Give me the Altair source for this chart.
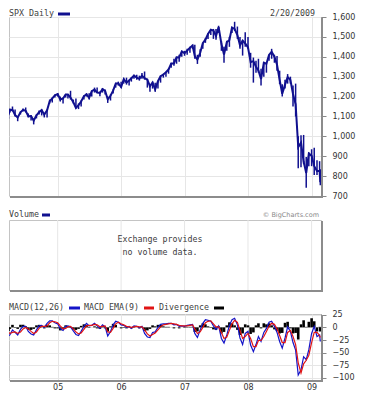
import altair as alt
import pandas as pd

# ---------------- data (semi-monthly readings) ----------------
ym = [(y, m) for y in range(2004, 2010) for m in range(1, 13)
      if (2004, 4) <= (y, m) <= (2009, 2)]
dates = ["2004-03-24"] + [f"{y}-{m:02d}-{d:02d}" for (y, m) in ym for d in (1, 16)] + ["2009-02-20"]

close = [1109, 1133, 1134, 1107, 1095, 1121, 1133, 1128, 1101, 1102, 1079, 1106, 1121, 1132, 1109, 1131, 1176, 1191, 1206,
         1212, 1185, 1190, 1210, 1210, 1195, 1172, 1143, 1157, 1175, 1202, 1211, 1194, 1227, 1235, 1220, 1218, 1237, 1229, 1186, 1204, 1230, 1265, 1267,
         1248, 1287, 1270, 1281, 1292, 1305, 1295, 1289, 1305, 1292, 1285, 1252, 1270, 1236, 1277, 1302, 1311, 1322, 1336, 1365, 1367, 1397, 1396, 1427,
         1418, 1431, 1445, 1456, 1403, 1386, 1420, 1468, 1486, 1515, 1536, 1532, 1505, 1549, 1465, 1411, 1473, 1484, 1547, 1540, 1509, 1458, 1481, 1467,
         1447, 1373, 1378, 1350, 1331, 1288, 1370, 1365, 1409, 1425, 1400, 1360, 1284, 1214, 1260, 1298, 1283, 1213, 1161, 946, 968, 873, 816, 913,
         903, 850, 826, 826, 770]
low = [1088, 1120, 1125, 1100, 1076, 1110, 1125, 1120, 1095, 1080, 1060, 1090, 1110, 1105, 1095, 1095, 1165, 1170, 1195,
       1200, 1175, 1165, 1195, 1190, 1185, 1165, 1140, 1137, 1150, 1185, 1200, 1185, 1200, 1220, 1218, 1201, 1220, 1210, 1168, 1180, 1215, 1245, 1255,
       1245, 1265, 1260, 1255, 1275, 1290, 1285, 1280, 1290, 1285, 1245, 1224, 1240, 1224, 1240, 1270, 1295, 1300, 1315, 1345, 1355, 1365, 1375, 1400,
       1405, 1410, 1420, 1440, 1390, 1364, 1400, 1440, 1470, 1490, 1510, 1490, 1485, 1520, 1430, 1370, 1430, 1450, 1520, 1530, 1490, 1440, 1406, 1450,
       1440, 1345, 1270, 1320, 1320, 1256, 1300, 1320, 1380, 1390, 1370, 1330, 1262, 1200, 1240, 1265, 1265, 1150, 1100, 840, 845, 860, 741, 850,
       850, 805, 805, 820, 754]
high = [1120, 1140, 1150, 1135, 1100, 1125, 1140, 1145, 1115, 1105, 1085, 1110, 1130, 1135, 1115, 1135, 1185, 1195, 1210,
        1217, 1200, 1195, 1212, 1212, 1229, 1185, 1190, 1165, 1180, 1205, 1217, 1216, 1230, 1245, 1245, 1225, 1243, 1235, 1200, 1210, 1235, 1270, 1275,
        1275, 1295, 1295, 1285, 1297, 1310, 1310, 1305, 1318, 1326, 1290, 1260, 1275, 1270, 1280, 1305, 1315, 1325, 1340, 1370, 1390, 1400, 1410, 1430,
        1430, 1440, 1450, 1461, 1461, 1410, 1438, 1470, 1494, 1518, 1540, 1540, 1540, 1556, 1480, 1450, 1480, 1500, 1550, 1576, 1552, 1500, 1485, 1523,
        1500, 1420, 1396, 1380, 1390, 1340, 1375, 1372, 1410, 1440, 1410, 1404, 1330, 1262, 1285, 1313, 1300, 1255, 1265, 1000, 1005, 1007, 896, 920,
        935, 943, 880, 875, 835]

macd = [-17, -15, -5, -10, -15, -4, 2, 2, -8, -13, -15, -5, 3, 4, 0, 8, 13, 13, 9,
        7, -3, -6, 2, 3, 1, -7, -14, -16, -8, 2, 8, 3, 4, 8, 3, -2, 5, 1, -17, -8, 5, 12, 10,
        5, 4, 0, 2, -2, 3, 2, -1, 2, -12, -19, -20, -10, -9, 0, 6, 7, 7, 8, 8, 5, 6, 2, 3,
        2, 4, 5, 6, -12, -20, -5, 8, 15, 14, 12, 3, -4, 3, -22, -31, -15, 4, 15, 18, 5, -21, -34, -12,
        -8, -35, -48, -34, -18, -28, -10, -2, 10, 12, 2, -10, -28, -41, -21, 1, -8, -30, -45, -94, -84, -58, -64, -44,
        -12, 2, -18, -15, -28]
ema = [-10, -12, -10, -9, -12, -9, -3, 0, -3, -8, -12, -9, -2, 2, 2, 3, 9, 12, 11,
       9, 3, -3, -2, 1, 2, -3, -9, -13, -11, -4, 3, 4, 4, 6, 5, 1, 2, 3, -9, -10, -2, 7, 10,
       7, 5, 2, 1, 0, 1, 2, 1, 1, -5, -13, -17, -14, -11, -5, 1, 5, 6, 7, 8, 7, 6, 4, 3,
       3, 3, 4, 5, -3, -12, -9, 0, 9, 12, 13, 7, 1, 1, -10, -22, -19, -6, 7, 14, 10, -6, -22, -18,
       -12, -22, -38, -38, -26, -26, -18, -8, 2, 8, 6, -3, -16, -30, -30, -10, -6, -18, -34, -70, -90, -72, -65, -55,
       -30, -10, -10, -16, -20]
div = [-7, -3, 5, -1, -3, 5, 5, 2, -5, -5, -3, 4, 5, 2, -2, 5, 4, 1, -2,
       -2, -6, -3, 4, 2, -1, -4, -5, -3, 3, 6, 5, -1, 0, 2, -2, -3, 3, -2, -8, 2, 7, 5, 0,
       -2, -1, -2, 1, -2, 2, 0, -2, 1, -7, -6, -3, 4, 2, 5, 5, 2, 1, 1, 0, -2, 0, -2, 0,
       -1, 1, 1, 1, -9, -8, 4, 8, 6, 2, -1, -4, -5, 2, -12, -9, 4, 10, 8, 4, -5, -15, -12, 6,
       4, -13, -10, 4, 8, -2, 8, 6, 8, 4, -4, -7, -12, -11, 9, 11, -2, -12, -11, -24, 6, 14, 1, 11,
       18, 12, -8, 1, -8]

price_ticks = [700, 800, 900, 1000, 1100, 1200, 1300, 1400, 1500, 1600]
macd_ticks = [25, 0, -25, -50, -75, -100]
year_starts = ["2005-01-01", "2006-01-01", "2007-01-01", "2008-01-01", "2009-01-01"]

df = pd.DataFrame({"date": dates, "close": close, "low": low, "high": high,
                   "macd": macd, "ema": ema, "div": div})
yr_df = pd.DataFrame({"yr": year_starts})

# ---------------- styling ----------------
W, H1, H2, H3 = 312, 179, 70, 66
BLUE = "#10108f"
MBLUE = "#1414c8"
RED = "#e01414"
GRID = "#e6e6e6"
TXT = "#404040"
MONO = "DejaVu Sans Mono"
FS = 8.3

xscale = alt.Scale(type="utc", padding=0,
                   domain=[alt.DateTime(year=2004, month=3, date=27, utc=True),
                           alt.DateTime(year=2009, month=2, date=24, utc=True)])
yr_vals = [alt.DateTime(year=y, month=1, date=1, utc=True) for y in range(2005, 2010)]
one = pd.DataFrame({"k": [0]})


def label(text, x, y, align="left", color=TXT, font=MONO, size=FS):
    return alt.Chart(one).mark_text(align=align, baseline="middle", font=font,
                                    fontSize=size, color=color).encode(
        x=alt.value(x), y=alt.value(y), text=alt.value(text))


def dash(x1, x2, y, color):
    return alt.Chart(one).mark_rule(color=color, strokeWidth=3).encode(
        x=alt.value(x1), x2=alt.value(x2), y=alt.value(y))


def shadow(h):
    right = alt.Chart(one).mark_rule(color="#8c8c8c", strokeWidth=2).encode(
        x=alt.value(W + 1), y=alt.value(1), y2=alt.value(h + 2))
    bottom = alt.Chart(one).mark_rule(color="#8c8c8c", strokeWidth=2).encode(
        x=alt.value(1), x2=alt.value(W + 2), y=alt.value(h + 1))
    return right + bottom


x_nolab = alt.X("date:T", scale=xscale,
                axis=alt.Axis(values=yr_vals, labels=False, ticks=False, domain=False,
                              grid=True, title=None))
p_yscale = alt.Scale(domain=[700, 1600])
p_yaxis = alt.Axis(orient="right", values=price_ticks, format=",.0f", labelPadding=6,
                   grid=True, title=None)

p_rules = alt.Chart(df).mark_rule(color=BLUE, strokeWidth=1.5, clip=True).encode(
    x=x_nolab, y=alt.Y("low:Q", scale=p_yscale, axis=p_yaxis), y2="high:Q")
p_line = alt.Chart(df).mark_line(color=BLUE, strokeWidth=2, clip=True).encode(
    x=x_nolab, y=alt.Y("close:Q", scale=p_yscale, axis=p_yaxis))
price = alt.layer(p_rules, p_line, shadow(H1),
                  label("SPX Daily", 0, -3), dash(49, 61, -3, BLUE),
                  label("2/20/2009", W - 6, -3, align="right")
                  ).properties(width=W, height=H1)

v_grid = alt.Chart(yr_df).mark_rule(color=GRID).encode(
    x=alt.X("yr:T", scale=xscale, axis=None))
volume = alt.layer(v_grid, shadow(H2),
                   label("Exchange provides", 151, 20, align="center"),
                   label("no volume data.", 151, 33, align="center"),
                   label("Volume", 0, -5), dash(33, 41, -5, BLUE),
                   label("\u00a9 BigCharts.com", W - 2, -5, align="right",
                         color="#8a8a8a", font="DejaVu Sans", size=6.5)
                   ).properties(width=W, height=H2)

x_lab = alt.X("date:T", scale=xscale,
              axis=alt.Axis(values=yr_vals, format="%y", labels=True, ticks=False, domain=False,
                            grid=True, title=None, labelPadding=3))
y_macd_scale = alt.Scale(domain=[-104, 26.4])
y_macd_axis = alt.Axis(orient="right", values=macd_ticks, labelPadding=6, grid=True, title=None)

m_bars = alt.Chart(df).mark_bar(color="black", size=2.6, clip=True).encode(
    x=x_lab, y=alt.Y("div:Q", scale=y_macd_scale, axis=y_macd_axis))
m_line = alt.Chart(df).mark_line(color=MBLUE, strokeWidth=1.2, clip=True).encode(
    x=x_lab, y=alt.Y("macd:Q", scale=y_macd_scale, axis=y_macd_axis))
m_ema = alt.Chart(df).mark_line(color=RED, strokeWidth=1.2, clip=True).encode(
    x=x_lab, y=alt.Y("ema:Q", scale=y_macd_scale, axis=y_macd_axis))
macd_panel = alt.layer(m_bars, m_line, m_ema, shadow(H3),
                       label("MACD(12,26)", 0, -6), dash(60, 71, -6, MBLUE),
                       label("MACD EMA(9)", 75, -6), dash(135, 145, -6, RED),
                       label("Divergence", 150, -6), dash(205, 215, -6, "black")
                       ).properties(width=W, height=H3)

chart = alt.vconcat(price, volume, macd_panel, spacing=24, bounds="flush").properties(
    padding={"left": 0, "top": 0, "right": 4, "bottom": 2}
).configure_view(stroke="#c4c4c4", strokeWidth=1).configure_axis(
    gridColor=GRID, labelFont="DejaVu Sans", labelFontSize=8, labelColor="#333333"
)

chart.save("out.html", embed_options={"renderer": "svg", "actions": False})
